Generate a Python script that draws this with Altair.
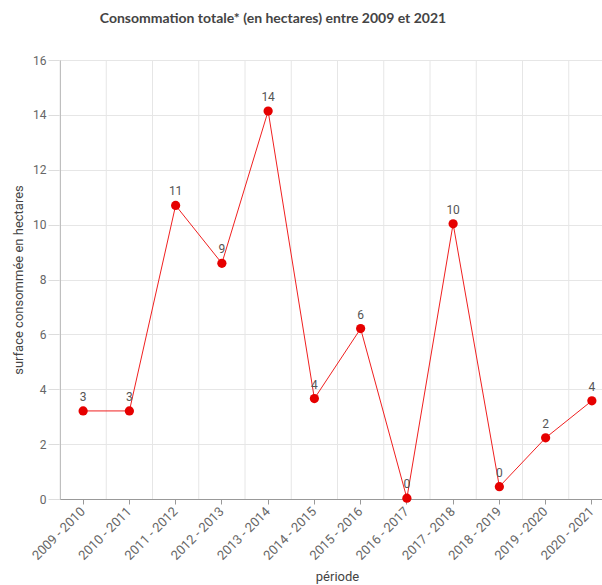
import altair as alt
import pandas as pd

periodes = ["2009 - 2010", "2010 - 2011", "2011 - 2012", "2012 - 2013", "2013 - 2014",
            "2014 - 2015", "2015 - 2016", "2016 - 2017", "2017 - 2018", "2018 - 2019",
            "2019 - 2020", "2020 - 2021"]
surface = [3.21, 3.21, 10.70, 8.59, 14.14, 3.66, 6.21, 0.03, 10.03, 0.45, 2.23, 3.58]

df = pd.DataFrame({"periode": periodes, "surface": surface})

RED = "#e60000"
xscale = alt.Scale(type="band", paddingInner=0, paddingOuter=0, range=[0, 555], domain=periodes)
yscale = alt.Scale(domain=[0, 16], nice=False)

xaxis = alt.Axis(title="période", labelAngle=-45, labelAlign="right",
                 labelBaseline="middle", labelPadding=5, bandPosition=0.5,
                 grid=False, tickSize=5, tickColor="#999999",
                 domainColor="#999999", labelColor="#666666",
                 labelFont="Roboto", labelFontSize=13,
                 titleFont="Roboto", titleFontSize=13, titleFontWeight="normal",
                 titleColor="#444444", titleX=277, titleY=84,
                 titleBaseline="bottom", titleAlign="center")
yaxis = alt.Axis(title="surface consommée en hectares", values=[0, 2, 4, 6, 8, 10, 12, 14, 16],
                 grid=True, gridColor="#e6e6e6", tickSize=12, tickColor="#dddddd",
                 domainColor="#999999", labelColor="#666666", labelPadding=2,
                 labelFont="Roboto", labelFontSize=12,
                 titleFont="Roboto", titleFontSize=13, titleFontWeight="normal",
                 titleColor="#444444", titleX=-42, titleY=219.5, titleAngle=-90,
                 titleBaseline="middle", titleAlign="center")

X = lambda **kw: alt.X("periode:N", scale=xscale, sort=periodes, axis=xaxis, **kw)
Y = alt.Y("surface:Q", scale=yscale, axis=yaxis)

base = alt.Chart(df)

vgrid = base.mark_rule(color="#e6e6e6", strokeWidth=1).encode(x=X(bandPosition=0))

line = base.mark_line(color="#f02020", strokeWidth=1).encode(x=X(), y=Y)

points = base.mark_circle(color=RED, size=85, opacity=1).encode(x=X(), y=Y)

labels = base.mark_text(color="#555555", fontSize=12, font="Roboto", baseline="bottom", dy=-7).encode(
    x=X(), y=Y,
    text=alt.Text("surface:Q", format=".0f"),
)

chart = alt.layer(vgrid, line, points, labels).properties(
    width=542,
    height=439,
    padding={"left": 60, "top": 60, "right": 0, "bottom": 86},
    autosize=alt.AutoSizeParams(type="none"),
    title=alt.TitleParams("Consommation totale* (en hectares) entre 2009 et 2021",
                          font="Lato", fontSize=14, fontWeight="bold", color="#444444",
                          anchor="middle", frame="group", dx=-58, offset=28),
).configure_view(stroke=None).configure(background="white")

chart.save("out.html", embed_options={"renderer": "svg", "actions": False})
